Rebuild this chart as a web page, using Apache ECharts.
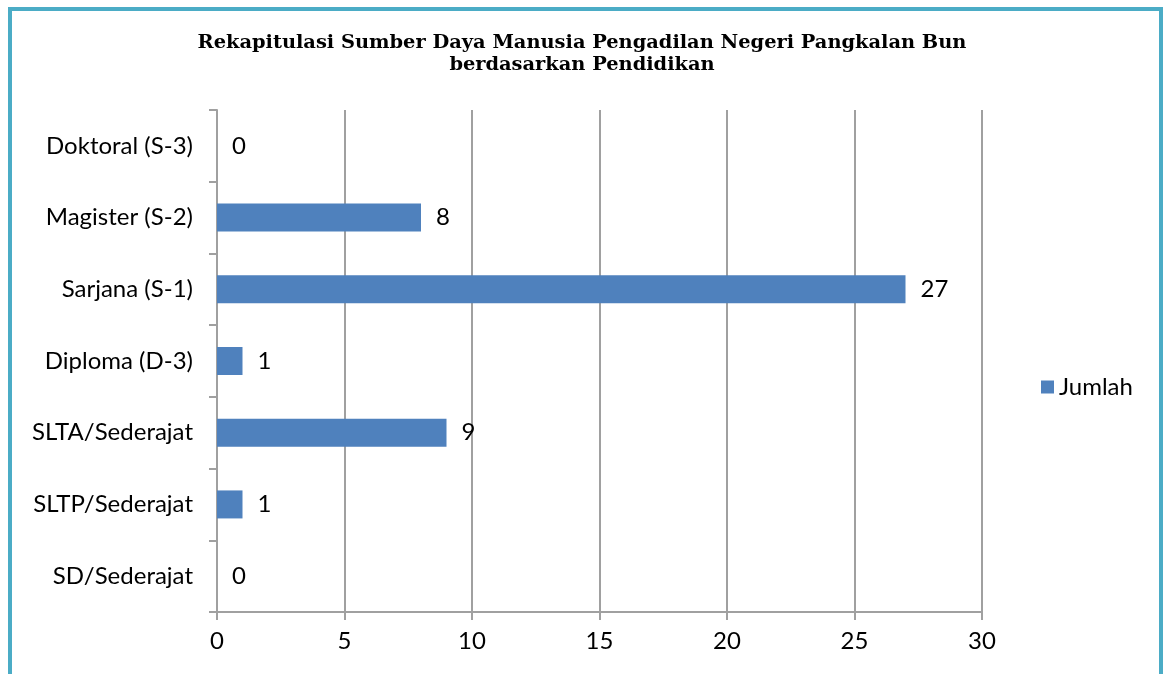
<!DOCTYPE html>
<html><head><meta charset="utf-8">
<script src="https://cdn.jsdelivr.net/npm/echarts@6/dist/echarts.min.js"></script>
<style>
html,body{margin:0;padding:0;background:#fff;}
#frame{position:absolute;left:8px;top:7px;width:1155px;height:680px;border-left:4px solid #4bacc6;border-top:4px solid #4bacc6;border-right:4px solid #4bacc6;box-sizing:border-box;}
#c{position:absolute;left:0;top:0;width:1164px;height:674px;}
</style></head><body>
<div id="frame"></div>
<div id="c"></div>
<script>
const categories = ["SD/Sederajat","SLTP/Sederajat","SLTA/Sederajat","Diploma (D-3)","Sarjana (S-1)","Magister (S-2)","Doktoral (S-3)"];
const jumlah = [0,1,9,1,27,8,0];
const titleText = "Rekapitulasi Sumber Daya Manusia Pengadilan Negeri Pangkalan Bun\nberdasarkan Pendidikan";
const chart = echarts.init(document.getElementById('c'));
const labelFont = "Lato, sans-serif";
chart.setOption({
  animation:false,
  title:{text:titleText,left:'center',top:27,textStyle:{fontFamily:"'DejaVu Serif', serif",fontWeight:'bold',fontSize:19.4,color:'#000',lineHeight:22}},
  legend:{data:['Jumlah'],orient:'vertical',left:1036,top:370,itemWidth:13,itemHeight:13,itemGap:5,icon:'rect',textStyle:{fontFamily:labelFont,fontSize:24,color:'#000'}},
  grid:{left:217,right:182,top:110,bottom:62,containLabel:false},
  xAxis:{type:'value',min:0,max:30,interval:5,
    axisLine:{show:true,lineStyle:{color:'#a0a0a0',width:2}},
    axisTick:{show:true,length:8,lineStyle:{color:'#a0a0a0',width:2}},
    splitLine:{show:true,lineStyle:{color:'#a0a0a0',width:2}},
    axisLabel:{fontFamily:labelFont,fontSize:24,color:'#000',margin:17}},
  yAxis:{type:'category',data:categories,
    axisLine:{show:true,lineStyle:{color:'#a0a0a0',width:2}},
    axisTick:{show:true,length:8,alignWithLabel:false,lineStyle:{color:'#a0a0a0',width:2}},
    axisLabel:{fontFamily:labelFont,fontSize:24,color:'#000',margin:24}},
  series:[{name:'Jumlah',type:'bar',data:jumlah,barWidth:28,itemStyle:{color:'#4f81bd'},
    label:{show:true,position:'right',distance:15,fontFamily:labelFont,fontSize:24,color:'#000'}}]
});
</script></body></html>
